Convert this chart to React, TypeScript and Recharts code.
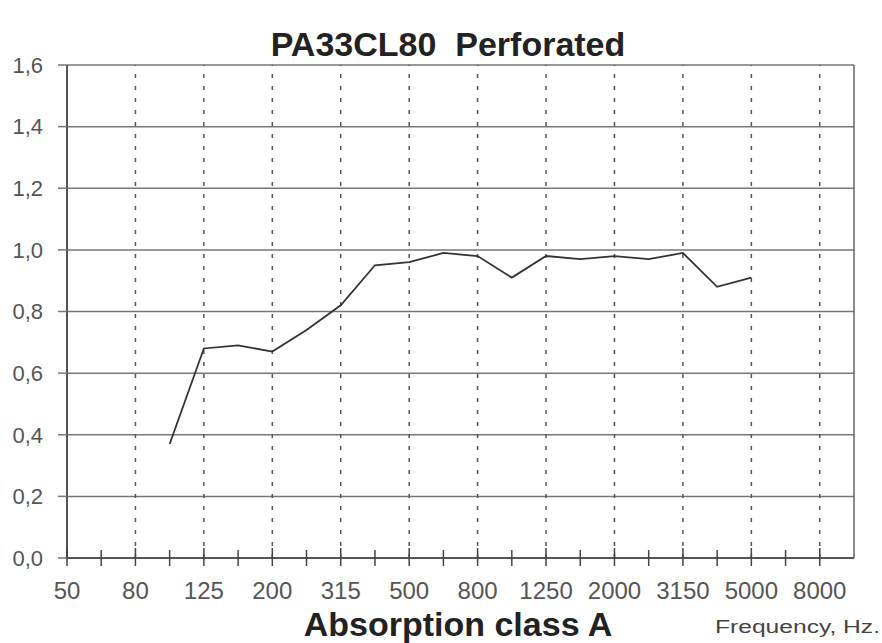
import { LineChart, Line, XAxis, YAxis, CartesianGrid, ReferenceLine } from 'recharts';

// 1/3-octave band centre frequencies on the x axis (index = position)
const BANDS = [
  '50', '63', '80', '100', '125', '160', '200', '250', '315', '400', '500', '630',
  '800', '1000', '1250', '1600', '2000', '2500', '3150', '4000', '5000', '6300', '8000', '10000',
];

// measured bands and absorption coefficients
const MEASURED = [
  '100', '125', '160', '200', '250', '315', '400', '500', '630',
  '800', '1000', '1250', '1600', '2000', '2500', '3150', '4000', '5000',
];
const ALPHA = [
  0.37, 0.68, 0.69, 0.67, 0.74, 0.82, 0.95, 0.96, 0.99,
  0.98, 0.91, 0.98, 0.97, 0.98, 0.97, 0.99, 0.88, 0.91,
];

const Y_TICKS = [0, 0.2, 0.4, 0.6, 0.8, 1.0, 1.2, 1.4, 1.6];

const FONT = '"Liberation Sans", Arial, sans-serif';
const TICK_SIZE = 8;

const data = MEASURED.map((b, i) => ({ idx: BANDS.indexOf(b), alpha: ALPHA[i] }));
const xTicks = BANDS.slice(0, -1).map((_, i) => i);
const gridX = xTicks.filter((i) => i > 0 && i % 2 === 0);

function FreqTick({ x, y, payload }: any) {
  const axisY = y - TICK_SIZE;
  const i = payload.value as number;
  const major = i % 2 === 0;
  return (
    <g>
      <line
        x1={x}
        x2={x}
        y1={axisY - (major ? 10 : 8)}
        y2={axisY + 8}
        stroke="#444"
        strokeWidth={1.5}
      />
      {major && (
        <text x={x} y={axisY + 41} textAnchor="middle" fontSize={24} fill="#555" fontFamily={FONT}>
          {BANDS[i]}
        </text>
      )}
    </g>
  );
}

export default function App() {
  return (
    <div style={{ position: 'absolute', left: 0, top: 0, width: 882, height: 643, background: '#fff' }}>
      <LineChart
        width={882}
        height={643}
        data={data}
        margin={{ top: 65, right: 28, bottom: 35, left: 0 }}
      >
        <CartesianGrid vertical={false} stroke="#777" strokeWidth={1.5} />
        {gridX.map((i) => (
          <ReferenceLine key={i} x={i} stroke="#555" strokeWidth={1.5} strokeDasharray="4 8" />
        ))}
        <ReferenceLine x={23} stroke="#666" strokeWidth={1.5} />
        <XAxis
          type="number"
          dataKey="idx"
          domain={[0, 23]}
          ticks={xTicks}
          interval={0}
          height={50}
          tickSize={TICK_SIZE}
          tickMargin={0}
          tickLine={false}
          axisLine={{ stroke: '#555', strokeWidth: 2 }}
          tick={<FreqTick />}
        />
        <YAxis
          type="number"
          domain={[0, 1.6]}
          ticks={Y_TICKS}
          interval={0}
          width={67}
          tickSize={9}
          tickMargin={15}
          tickLine={{ stroke: '#777', strokeWidth: 1.5 }}
          axisLine={{ stroke: '#555', strokeWidth: 2 }}
          tick={{ fill: '#555', fontSize: 22, fontFamily: FONT }}
          tickFormatter={(v: number) => v.toFixed(1).replace('.', ',')}
        />
        <Line
          type="linear"
          dataKey="alpha"
          stroke="#333"
          strokeWidth={1.8}
          dot={false}
          isAnimationActive={false}
        />
      </LineChart>
      <svg
        width={882}
        height={643}
        style={{ position: 'absolute', left: 0, top: 0, pointerEvents: 'none' }}
      >
        <text x={448} y={56} textAnchor="middle" fontSize={34} fontWeight="bold" fill="#222" fontFamily={FONT} style={{ whiteSpace: 'pre' }}>
          PA33CL80  Perforated
        </text>
        <text x={458} y={636} textAnchor="middle" fontSize={34} fontWeight="bold" fill="#222" fontFamily={FONT}>
          Absorption class A
        </text>
        <text x={715} y={633} fontSize={18} fill="#444" fontFamily={FONT} textLength={165} lengthAdjust="spacingAndGlyphs">
          Frequency, Hz.
        </text>
      </svg>
    </div>
  );
}
